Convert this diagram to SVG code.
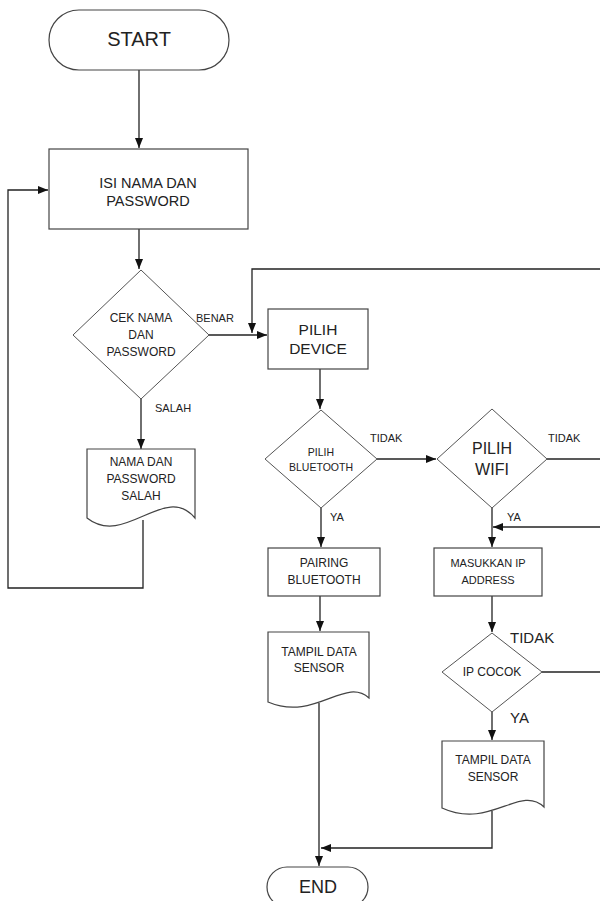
<svg xmlns="http://www.w3.org/2000/svg" width="600" height="901" viewBox="0 0 600 901">
<defs>
<marker id="ah" markerWidth="10" markerHeight="8" refX="10" refY="4" orient="auto" markerUnits="userSpaceOnUse">
<path d="M0,0 L10,4 L0,8 Z" fill="#111"/>
</marker>
<style>
.s{fill:#fff;stroke:#444;stroke-width:1.2}
.d{fill:#fff;stroke:#555;stroke-width:1}
.c{fill:none;stroke:#222;stroke-width:1.3}
.ca{fill:none;stroke:#222;stroke-width:1.3;marker-end:url(#ah)}
text{font-family:"Liberation Sans",Arial,sans-serif;fill:#222;text-anchor:middle}
.l{text-anchor:start}
</style>
</defs>
<rect width="600" height="901" fill="#fff"/>
<g id="connectors">
<path class="ca" d="M139,70 V148"/>
<path class="ca" d="M139,229 V269"/>
<path class="ca" d="M209,335 H267"/>
<path class="ca" d="M141,399 V449"/>
<path class="ca" d="M143,520 V588 H8 V190 H48"/>
<path class="ca" d="M600,269 H252 V333"/>
<path class="ca" d="M320,369 V409"/>
<path class="ca" d="M377,459 H436"/>
<path class="c" d="M547,459 H600"/>
<path class="ca" d="M321,508 V547"/>
<path class="ca" d="M492,508 V547"/>
<path class="ca" d="M600,527 H493"/>
<path class="ca" d="M320,596 V631"/>
<path class="ca" d="M492,596 V632"/>
<path class="c" d="M542,672 H600"/>
<path class="ca" d="M492,712 V740"/>
<path class="ca" d="M319,703 V866"/>
<path class="ca" d="M492,811 V848 H321"/>
</g>
<g id="start">
<rect class="s" x="49" y="10" width="180" height="60" rx="30" ry="30"/>
<text x="139" y="46" font-size="20">START</text>
</g>
<g id="isi">
<rect class="s" x="49" y="149" width="199" height="80"/>
<text x="148" y="188" font-size="14.5">ISI NAMA DAN</text>
<text x="148" y="206" font-size="14.5">PASSWORD</text>
</g>
<g id="cek">
<polygon class="d" points="141,270 209,335 141,399 73,335"/>
<text x="141" y="322" font-size="12">CEK NAMA</text>
<text x="141" y="339" font-size="12">DAN</text>
<text x="141" y="356" font-size="12">PASSWORD</text>
</g>
<g id="salah">
<path class="s" d="M87,449 H195 V518 C165,482 125,548 87,518 Z"/>
<text x="141" y="466" font-size="12">NAMA DAN</text>
<text x="141" y="483" font-size="12">PASSWORD</text>
<text x="141" y="500" font-size="12">SALAH</text>
</g>
<g id="device">
<rect class="s" x="268" y="309" width="100" height="60"/>
<text x="318" y="335" font-size="15.5">PILIH</text>
<text x="318" y="354" font-size="15.5">DEVICE</text>
</g>
<g id="bluetooth">
<polygon class="d" points="321,410 377,459 321,508 265,459"/>
<text x="321" y="456" font-size="10.5">PILIH</text>
<text x="321" y="471" font-size="10.5">BLUETOOTH</text>
</g>
<g id="wifi">
<polygon class="d" points="492,409 547,459 492,508 437,459"/>
<text x="492" y="454" font-size="16">PILIH</text>
<text x="492" y="475" font-size="16">WIFI</text>
</g>
<g id="pairing">
<rect class="s" x="268" y="548" width="112" height="48"/>
<text x="324" y="567" font-size="12">PAIRING</text>
<text x="324" y="584" font-size="12">BLUETOOTH</text>
</g>
<g id="masukkan">
<rect class="s" x="434" y="548" width="108" height="48"/>
<text x="488" y="567" font-size="11">MASUKKAN IP</text>
<text x="488" y="584" font-size="11">ADDRESS</text>
</g>
<g id="tampil1">
<path class="s" d="M268,632 H369 V698 C345,676 315,722 268,702 Z"/>
<text x="319" y="656" font-size="12">TAMPIL DATA</text>
<text x="319" y="672" font-size="12">SENSOR</text>
</g>
<g id="ipcocok">
<polygon class="d" points="492,633 542,672 492,712 442,672"/>
<text x="492" y="676" font-size="12">IP COCOK</text>
</g>
<g id="tampil2">
<path class="s" d="M442,741 H544 V807 C520,784 490,830 442,808 Z"/>
<text x="493" y="764" font-size="12">TAMPIL DATA</text>
<text x="493" y="781" font-size="12">SENSOR</text>
</g>
<g id="end">
<rect class="s" x="267" y="867" width="101" height="40" rx="20" ry="20"/>
<text x="318" y="893" font-size="18">END</text>
</g>
<g id="labels">
<text class="l" x="196" y="322" font-size="11">BENAR</text>
<text class="l" x="155" y="412" font-size="11">SALAH</text>
<text class="l" x="370" y="442" font-size="11">TIDAK</text>
<text class="l" x="548" y="442" font-size="11">TIDAK</text>
<text class="l" x="330" y="521" font-size="11">YA</text>
<text class="l" x="507" y="521" font-size="11">YA</text>
<text class="l" x="510" y="643" font-size="15">TIDAK</text>
<text class="l" x="510" y="723" font-size="15">YA</text>
</g>
</svg>
